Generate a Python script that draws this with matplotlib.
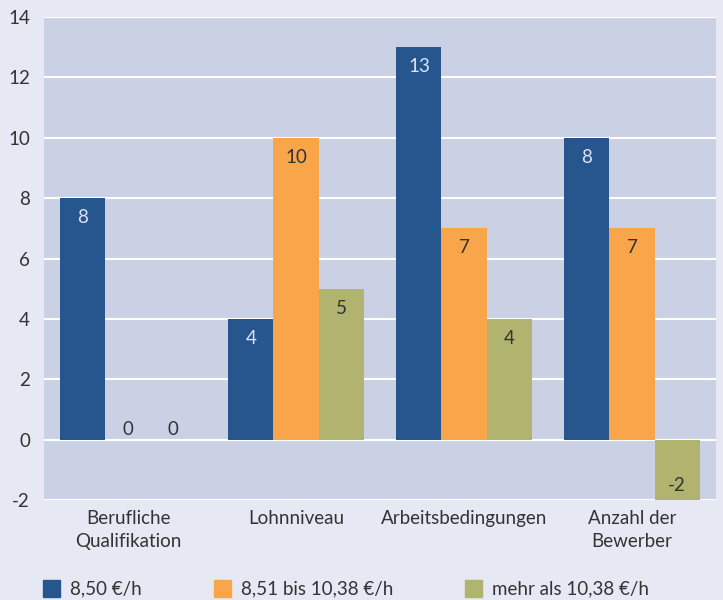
import matplotlib
matplotlib.use("Agg")
import matplotlib.pyplot as plt
import numpy as np

categories = ["Berufliche\nQualifikation", "Lohnniveau", "Arbeitsbedingungen", "Anzahl der\nBewerber"]
series_names = ["8,50 €/h", "8,51 bis 10,38 €/h", "mehr als 10,38 €/h"]
blue_vals = [8, 4, 13, 10]
orange_vals = [0, 10, 7, 7]
green_vals = [0, 5, 4, -2]
# printed labels (as in the source, not always equal to bar height)
blue_labels = ["8", "4", "13", "8"]
orange_labels = ["0", "10", "7", "7"]
green_labels = ["0", "5", "4", "-2"]
yticks = [-2, 0, 2, 4, 6, 8, 10, 12, 14]

colors = ["#27568f", "#f9a54a", "#b0b46e"]
label_colors = ["#dde3f0", "#333333", "#333333"]
fig_bg = "#e6e8f4"
ax_bg = "#cbd1e5"
txt = "#333333"
fs = 13.5

plt.rcParams["font.family"] = ["Lato", "DejaVu Sans"]

fig = plt.figure(figsize=(7.23, 6.0), dpi=100, facecolor=fig_bg)
ax = fig.add_axes([44 / 723, 100 / 600, 672 / 723, 483 / 600])
ax.set_facecolor(ax_bg)

x = np.arange(len(categories))
w = 0.268
allvals = [blue_vals, orange_vals, green_vals]
alllabels = [blue_labels, orange_labels, green_labels]
for i, (vals, labs) in enumerate(zip(allvals, alllabels)):
    xs = x + (i - 1) * w
    ax.bar(xs, vals, width=w, color=colors[i], zorder=3, linewidth=0)
    for xi, v, lab in zip(xs, vals, labs):
        if v > 0:
            ax.annotate(lab, (xi, v), xytext=(0, -8), textcoords="offset points",
                        ha="center", va="top", fontsize=fs, color=label_colors[i], zorder=4)
        elif v == 0:
            ax.annotate(lab, (xi, v), xytext=(0, 1), textcoords="offset points",
                        ha="center", va="bottom", fontsize=fs, color=txt, zorder=4)
        else:
            ax.annotate(lab, (xi, v), xytext=(0, 4), textcoords="offset points",
                        ha="center", va="bottom", fontsize=fs, color=label_colors[i], zorder=4)

ax.set_xlim(-0.5, 3.5)
ax.set_ylim(-2, 14)
ax.set_yticks(yticks)
ax.set_yticklabels([str(t) for t in yticks])
ax.set_xticks(x)
ax.set_xticklabels(categories, linespacing=1.45)
ax.tick_params(length=0, labelsize=fs, colors=txt)
ax.tick_params(axis="y", pad=10)
ax.tick_params(axis="x", pad=7)
ax.grid(axis="y", color="white", lw=1.5, zorder=1)
for s in ax.spines.values():
    s.set_visible(False)

# legend, placed by hand to match the source layout
leg_x = [43, 214, 465]
for lx, c, name in zip(leg_x, colors, series_names):
    fig.patches.append(plt.Rectangle((lx / 723, 1 - 597 / 600), 17 / 723, 17 / 600,
                                     transform=fig.transFigure, color=c))
    fig.text((lx + 27) / 723, 1 - 589 / 600, name, ha="left", va="center",
             fontsize=fs, color=txt)

fig.savefig("out.png", dpi=100, facecolor=fig_bg)
